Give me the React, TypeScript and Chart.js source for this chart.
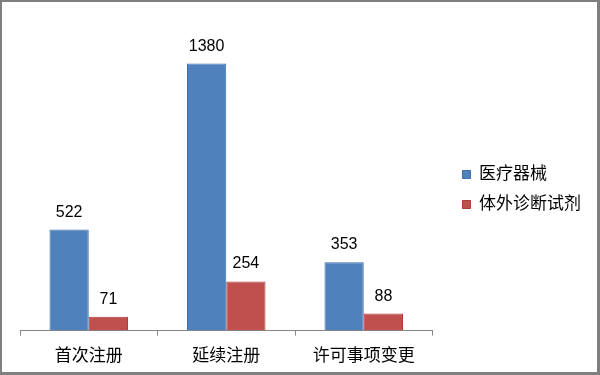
import React, { useEffect, useRef } from "react";
import { Chart, registerables } from "chart.js";

Chart.register(...registerables);

const categories = ["首次注册", "延续注册", "许可事项变更"];
const deviceValues = [522, 1380, 353];
const ivdValues = [71, 254, 88];
const seriesNames = ["医疗器械", "体外诊断试剂"];
const yMin = 0;
const yMax = 1600;

const FONT = "'Liberation Sans', 'Noto Sans CJK SC', sans-serif";

const valueLabels = {
  id: "valueLabels",
  afterDatasetsDraw(chart: any) {
    const ctx = chart.ctx;
    ctx.save();
    ctx.font = `16px ${FONT}`;
    ctx.fillStyle = "#000000";
    ctx.textAlign = "center";
    ctx.textBaseline = "alphabetic";
    chart.data.datasets.forEach((ds: any, di: number) => {
      const meta = chart.getDatasetMeta(di);
      meta.data.forEach((el: any, i: number) => {
        ctx.fillText(String(ds.data[i]), el.x, el.y - 13);
      });
    });
    ctx.restore();
  },
};

const legendShift = {
  id: "legendShift",
  afterLayout(chart: any) {
    const lg = chart.legend;
    if (lg) {
      lg.top -= 10;
      lg.bottom -= 10;
    }
  },
};

export default function App() {
  const ref = useRef<HTMLCanvasElement>(null);
  useEffect(() => {
    document.body.style.margin = "0";
    if (!ref.current) return;
    const chart = new Chart(ref.current, {
      type: "bar",
      data: {
        labels: categories,
        datasets: [
          {
            label: seriesNames[0],
            data: deviceValues,
            backgroundColor: "#4F81BD",
            borderColor: "#3C6EAB",
            borderWidth: 1,
            categoryPercentage: 0.571,
            barPercentage: 1,
          },
          {
            label: seriesNames[1],
            data: ivdValues,
            backgroundColor: "#C0504D",
            borderColor: "#B03C39",
            borderWidth: 1,
            categoryPercentage: 0.571,
            barPercentage: 1,
          },
        ],
      },
      options: {
        responsive: false,
        animation: false,
        layout: { padding: { left: 18, top: 19, bottom: -6, right: 6 } },
        plugins: {
          tooltip: { enabled: false },
          legend: {
            position: "right",
            align: "center",
            labels: {
              boxWidth: 8,
              boxHeight: 8,
              padding: 13,
              color: "#000000",
              font: { family: FONT, size: 17 },
            },
          },
        },
        scales: {
          x: {
            grid: {
              display: true,
              drawOnChartArea: false,
              drawTicks: true,
              tickLength: 5,
              color: "#868686",
              offset: true,
            },
            border: { display: true, color: "#868686", width: 1 },
            ticks: {
              color: "#000000",
              padding: 11,
              font: { family: FONT, size: 17 },
            },
          },
          y: {
            position: "right",
            min: yMin,
            max: yMax,
            grid: { display: false },
            border: { display: false },
            ticks: { display: false },
            afterFit: (s: any) => {
              s.width = 17;
            },
          },
        },
      },
      plugins: [valueLabels, legendShift],
    });
    return () => chart.destroy();
  }, []);

  return (
    <div
      style={{
        width: 600,
        height: 375,
        boxSizing: "border-box",
        borderStyle: "solid",
        borderColor: "#7f7f7f",
        borderWidth: "2px 3px 3px 2px",
        background: "#ffffff",
        overflow: "hidden",
      }}
    >
      <canvas ref={ref} width={595} height={370} style={{ display: "block" }} />
    </div>
  );
}
